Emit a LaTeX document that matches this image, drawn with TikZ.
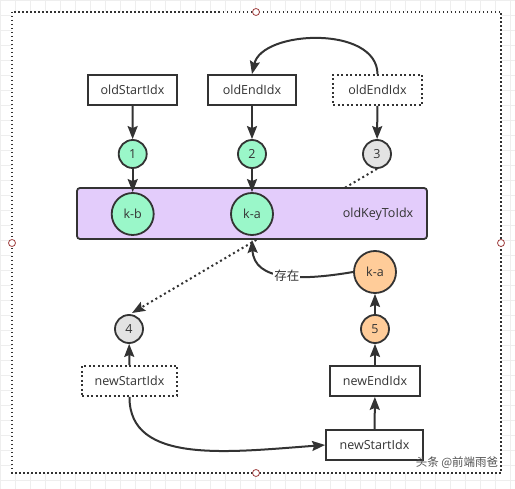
\documentclass[tikz,border=0pt]{standalone}
\usepackage{fontspec}
\setmainfont{Open Sans}
\newfontfamily\cjk{Noto Sans CJK SC}
\usetikzlibrary{arrows.meta}
\definecolor{ink}{HTML}{333333}
\definecolor{gfill}{HTML}{9AF7C9}
\definecolor{ofill}{HTML}{FFCC99}
\definecolor{grayfill}{HTML}{E3E3E3}
\definecolor{pfill}{HTML}{E3CCFB}
\definecolor{gridc}{HTML}{EEEEEE}
\definecolor{handle}{HTML}{A04040}
\tikzset{
  txt/.style={font=\fontsize{12.5}{15}\selectfont, text=ink},
  box/.style={txt, draw=ink, line width=1.8pt, fill=white, minimum height=30pt, inner sep=0pt},
  dbox/.style={box, dash pattern=on 2pt off 2.5pt},
  circ/.style={txt, circle, draw=ink, line width=1.8pt, inner sep=0pt},
  small/.style={circ, minimum size=28pt},
  big/.style={circ, minimum size=42pt},
  tipstyle/.style={-{Stealth[length=13pt,width=10pt,inset=2pt]}},
  arr/.style={draw=ink, line width=2pt, tipstyle},
  hnd/.style={circle, draw=handle, fill=white, line width=0.8pt, minimum size=7pt, inner sep=0pt}
}
\begin{document}
\begin{tikzpicture}[x=1pt,y=-1pt]
\useasboundingbox (0,0) rectangle (515,489);
% background grid
\fill[white] (0,0) rectangle (515,489);
\draw[gridc, line width=0.6pt] (0,0) grid[step=15pt] (515,489);
\fill[white] (12,12) rectangle (501,473);
% outer dotted frame
\draw[ink, line width=1.5pt, dash pattern=on 1.5pt off 2.5pt] (12,12) rectangle (501,473);
\node[hnd] (h1) at (256,12) {};
\node[hnd] (h2) at (12,243) {};
\node[hnd] (h3) at (501,243) {};
\node[hnd] (h4) at (256,473) {};

% top boxes
\node[box, minimum width=89pt] (os) at (132.5,90) {oldStartIdx};
\node[box, minimum width=88pt] (oe) at (252,90) {oldEndIdx};
\node[dbox, minimum width=89pt] (oe2) at (377.5,90) {oldEndIdx};

\node[small, fill=gfill] (c1) at (132.7,154) {1};
\node[small, fill=gfill] (c2) at (252,154) {2};
\node[small, fill=grayfill] (c3) at (377,154) {3};

% lower left
\node[small, fill=grayfill] (c4) at (129,329) {4};
\node[dbox, minimum width=95pt] (ns) at (129.5,381) {newStartIdx};
\coordinate (tip4) at (132,313);

% dotted line from 3 to 4 (behind the map)
\draw[ink, line width=2pt, dash pattern=on 2pt off 3pt, tipstyle] (c3.south) -- (tip4);

% map
\node[draw=ink, line width=1.8pt, fill=pfill, rounded corners=3pt, minimum width=350pt, minimum height=51pt] (map) at (252,213.5) {};
\node[txt] (mapl) at (378,214) {oldKeyToIdx};
\node[big, fill=gfill] (kb) at (132.7,214) {k-b};
\node[big, fill=gfill] (ka) at (252,214) {k-a};

% lower right
\node[box, minimum width=97pt] (nS) at (374.5,445) {newStartIdx};
\node[box, minimum width=90pt] (nE) at (375,381) {newEndIdx};
\node[small, fill=ofill] (c5) at (375,329) {5};
\node[big, fill=ofill] (ka2) at (375,272) {k-a};

% arrows
\draw[arr] (os) -- (c1);
\draw[arr] (c1) -- (kb);
\draw[arr] (oe) -- (c2);
\draw[arr] (c2) -- (ka);
\draw[arr] (oe2) -- (c3);
\draw[arr] (ns) -- (c4);
\draw[arr] (nS) -- (nE);
\draw[arr] (nE) -- (c5);
\draw[arr] (c5) -- (ka2);

\draw[arr] (oe2.north) .. controls (377,25) and (262,30) .. (oe.north);
\draw[arr] (ns.south) .. controls (129,465) and (230,452) .. (nS.west);
\draw[arr] (ka2.west) .. controls (300,281) and (254,281) .. ([yshift=-4pt]ka.south)
  node[pos=0.47, fill=white, inner sep=1pt, txt] (lbl) {\cjk 存在};

% watermark
\node[font=\fontsize{11.5}{13}\selectfont\cjk, text=ink!85] (wm) at (457,463) {头条 @前端雨爸};
\end{tikzpicture}
\end{document}
